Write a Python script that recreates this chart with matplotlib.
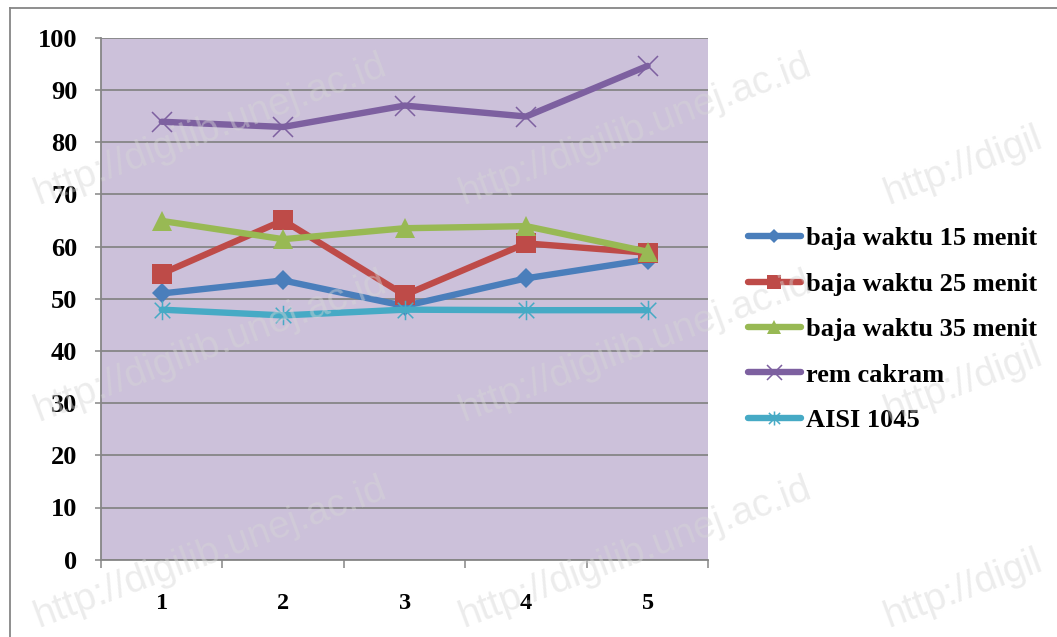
import matplotlib
matplotlib.use("Agg")
import matplotlib.pyplot as plt
from matplotlib.path import Path
from matplotlib.lines import Line2D

# --- data -------------------------------------------------------------
categories = [1, 2, 3, 4, 5]
baja_15 = [51.0, 53.5, 48.6, 53.9, 57.5]
baja_25 = [54.8, 65.0, 50.7, 60.6, 58.8]
baja_35 = [64.9, 61.4, 63.5, 63.9, 59.0]
rem_cakram = [83.9, 82.9, 87.0, 84.9, 94.6]
aisi_1045 = [47.9, 46.8, 47.9, 47.8, 47.8]

series_labels = ["baja waktu 15 menit", "baja waktu 25 menit",
                 "baja waktu 35 menit", "rem cakram", "AISI 1045"]
y_ticks = [0, 10, 20, 30, 40, 50, 60, 70, 80, 90, 100]

# --- style ------------------------------------------------------------
W, H, DPI = 1057, 637, 100
serif = ["Liberation Serif", "DejaVu Serif"]
grid_gray = "#868686"
plot_bg = "#CCC1DA"

# Star marker: an "x" crossed by a vertical bar
star_marker = Path(
    [(-1, -1), (1, 1), (-1, 1), (1, -1), (0, -1.25), (0, 1.25)],
    [Path.MOVETO, Path.LINETO, Path.MOVETO, Path.LINETO, Path.MOVETO, Path.LINETO],
)

styles = [
    dict(color="#4A7EBB", marker="D", ms=10, mew=0),
    dict(color="#BE4B48", marker="s", ms=14, mew=0),
    dict(color="#98B954", marker="^", ms=14, mew=0),
    dict(color="#7D60A0", marker="x", ms=15, mew=1.1),
    dict(color="#46AAC5", marker=star_marker, ms=14, mew=1.1),
]

fig = plt.figure(figsize=(W / DPI, H / DPI), dpi=DPI)
left, right = 101 / W, 708.3 / W
bottom, top = 1 - 559.7 / H, 1 - 37.7 / H
ax = fig.add_axes([left, bottom, right - left, top - bottom])
ax.set_facecolor(plot_bg)

all_series = [baja_15, baja_25, baja_35, rem_cakram, aisi_1045]
for vals, lab, st in zip(all_series, series_labels, styles):
    ax.plot(categories, vals, label=lab, lw=4.6, color=st["color"],
            marker=st["marker"], markersize=st["ms"],
            markeredgewidth=st["mew"], markeredgecolor=st["color"],
            markerfacecolor=st["color"], solid_capstyle="round",
            solid_joinstyle="round", zorder=3)

# axes limits and grid
ax.set_xlim(0.5, 5.5)
ax.set_ylim(0, 100)
ax.set_yticks(y_ticks)
ax.set_yticklabels([str(v) for v in y_ticks], fontfamily=serif,
                   fontweight="bold", fontsize=19)
ax.yaxis.grid(True, color=grid_gray, lw=1.3)
ax.set_axisbelow(True)
ax.tick_params(axis="y", length=4.5, width=1.1, color=grid_gray, pad=12.5,
               direction="out")

# category axis: tick marks between categories, labels at centres
ax.set_xticks([c - 0.5 for c in categories] + [categories[-1] + 0.5])
ax.set_xticklabels([])
ax.set_xticks(categories, minor=True)
ax.set_xticklabels([str(c) for c in categories], minor=True,
                   fontfamily=serif, fontweight="bold", fontsize=17.5)
ax.tick_params(axis="x", which="major", length=5.5, width=1.1,
               color=grid_gray, direction="out")
ax.tick_params(axis="x", which="minor", length=0, pad=24)

for side in ("top", "right"):
    ax.spines[side].set_visible(False)
for side in ("left", "bottom"):
    ax.spines[side].set_color(grid_gray)
    ax.spines[side].set_linewidth(1.3)

# legend to the right of the plot area
leg = fig.legend(loc="center left", bbox_to_anchor=(748 / W, 1 - 329.5 / H),
                 frameon=False, borderpad=0, borderaxespad=0,
                 handlelength=2.0, handletextpad=0.2, labelspacing=0.83,
                 markerscale=0.72,
                 prop=dict(family=serif, weight="bold", size=19))

# outer chart border (left and top edges)
fig.add_artist(Line2D([9.5 / W, 9.5 / W], [0, 1 - 8 / H],
                      transform=fig.transFigure, color=grid_gray, lw=1.3))
fig.add_artist(Line2D([9.5 / W, 1], [1 - 8 / H, 1 - 8 / H],
                      transform=fig.transFigure, color=grid_gray, lw=1.3))

# repository watermark (the right-hand column runs off the page edge)
for y0 in (205, 422, 628):
    for x0, stamp in ((38, "http://digilib.unej.ac.id"),
                      (463, "http://digilib.unej.ac.id"),
                      (888, "http://digil")):
        fig.text(x0 / W, 1 - y0 / H, stamp,
                 rotation=20.5, rotation_mode="anchor", ha="left",
                 va="baseline", fontsize=28, family="Liberation Sans",
                 color="#d6d6d6", alpha=0.45, zorder=10)

fig.savefig("out.png", dpi=DPI)
